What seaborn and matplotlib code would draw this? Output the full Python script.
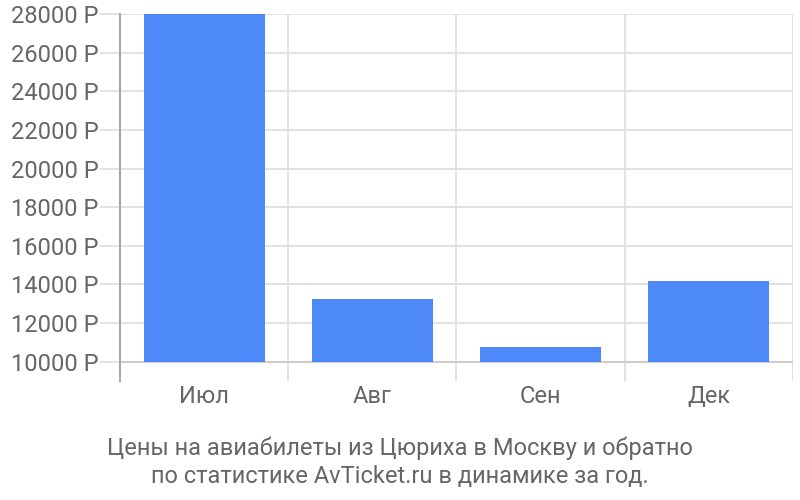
import matplotlib
matplotlib.use("Agg")
import matplotlib.pyplot as plt
import seaborn as sns
import pandas as pd
from matplotlib.ticker import FixedLocator, FuncFormatter

months = ["Июл", "Авг", "Сен", "Дек"]
prices = [28000, 13240, 10745, 14175]
yticks = [10000, 12000, 14000, 16000, 18000, 20000, 22000, 24000, 26000, 28000]
base = 10000
caption = "Цены на авиабилеты из Цюриха в Москву и обратно\nпо статистике AvTicket.ru в динамике за год."

sns.set_theme(style="white")
plt.rcParams['font.family'] = ['Roboto', 'DejaVu Sans']

df = pd.DataFrame({"month": months, "price": prices})

fig = plt.figure(figsize=(8, 5), dpi=100)
ax = fig.add_axes([0.15, 0.238, 0.841, 0.734])

sns.barplot(data=df, x="month", y="price", color="#4d89f9", saturation=1,
            width=0.72, ax=ax, zorder=3, edgecolor="none")
for p in ax.patches:
    h = p.get_y() + p.get_height()
    p.set_y(base)
    p.set_height(h - base)

ax.set_ylim(9000, 28000)
ax.set_xlim(-0.5, len(months) - 0.5)
ax.set_yticks(yticks)
ax.yaxis.set_major_formatter(FuncFormatter(lambda v, pos: f"{int(v)} Р"))
ax.xaxis.set_minor_locator(FixedLocator([i - 0.5 for i in range(len(months) + 1)]))

ax.grid(axis="y", which="major", color="#dddddd", linewidth=1.2, zorder=0)
ax.grid(axis="x", which="minor", color="#dddddd", linewidth=1.2, zorder=0)
ax.axhline(base, color="#cccccc", linewidth=1.5, zorder=2)

for s in ["top", "right", "bottom"]:
    ax.spines[s].set_visible(False)
ax.spines["left"].set_color("#aaaaaa")
ax.spines["left"].set_linewidth(1.5)

ax.tick_params(axis="y", which="major", length=14.4, color="#dddddd", width=1.2,
               labelsize=17, labelcolor="#666666", pad=1, left=True)
ax.tick_params(axis="x", which="major", length=0, labelsize=17,
               labelcolor="#666666", pad=3)
ax.tick_params(axis="x", which="minor", length=0)
ax.set_xlabel("")
ax.set_ylabel("")

fig.text(0.5, 0.075, caption, ha="center", va="center", fontsize=17,
         color="#666666", linespacing=1.3)

fig.savefig("out.png", dpi=100)
